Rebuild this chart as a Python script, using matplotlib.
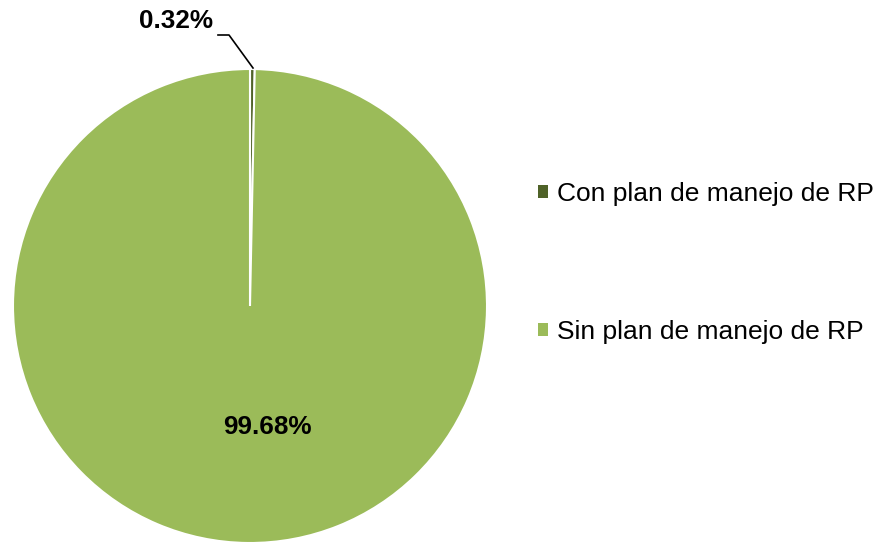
import matplotlib
matplotlib.use("Agg")
import matplotlib.pyplot as plt
from matplotlib.patches import Patch

plt.rcParams['font.family'] = ['Liberation Sans', 'DejaVu Sans']

categories = ["Con plan de manejo de RP", "Sin plan de manejo de RP"]
values = [0.32, 99.68]
labels = ["0.32%", "99.68%"]
colors = ["#4F6228", "#9BBB59"]

W, H = 882, 546
fig = plt.figure(figsize=(W / 100, H / 100), dpi=100)
ax = fig.add_axes([0, 0, 1, 1])

cx, cy, r = 250, H - 306, 237
wedges, _ = ax.pie(values, colors=colors, startangle=90, counterclock=False,
                   center=(cx, cy), radius=r,
                   wedgeprops=dict(edgecolor='white', linewidth=1.5))
ax.set_xlim(0, W)
ax.set_ylim(0, H)
ax.set_aspect('equal')
ax.axis('off')

# small slice label with leader line
ax.text(176, H - 21, labels[0], ha='center', va='center', fontsize=18.8, fontweight='bold')
ax.plot([218, 229, 253], [H - 35, H - 35, H - 68], color='black', lw=1.2)
# large slice label
ax.text(267, H - 427, labels[1], ha='center', va='center', fontsize=18.8, fontweight='bold')

handles = [Patch(facecolor=c, edgecolor='none') for c in colors]
fig.legend(handles, categories, loc='center left', bbox_to_anchor=(525 / W, 1 - 263 / H),
           frameon=False, fontsize=19, handlelength=0.38, handleheight=0.38,
           handletextpad=0.34, labelspacing=4.32, borderpad=0)

fig.savefig("out.png", dpi=100)
